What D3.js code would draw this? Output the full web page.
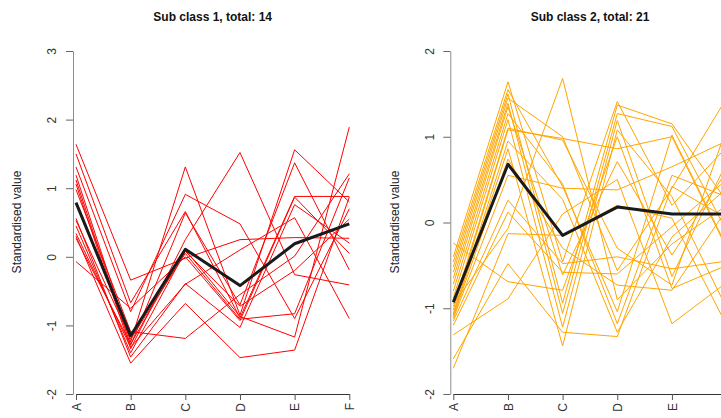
<!DOCTYPE html>
<html>
<head>
<meta charset="utf-8">
<script src="https://cdn.jsdelivr.net/npm/d3@7"></script>
<style>
  body { margin: 0; background: #fff; }
  text { font-family: "Liberation Sans", Arial, sans-serif; }
</style>
</head>
<body>
<div id="chart"></div>
<script>
var svgWidth = 721;
var svgHeight = 418;

// data
var categories = ["A", "B", "C", "D", "E", "F"];

var titles = ["Sub class 1, total: 14", "Sub class 2, total: 21"];

var class1Lines = [
  [1.64, -0.34, -0.02, 0.25, 0.28, 0.27],
  [1.50, -0.67, 0.66, -0.89, 0.88, 0.88],
  [1.31, -0.80, 0.91, 0.48, -0.90, 0.70],
  [1.19, -1.24, 1.31, -0.85, 1.56, 0.80],
  [1.12, -1.29, 0.64, -0.70, 1.37, -0.19],
  [1.06, -1.34, 0.25, 1.52, -0.26, -0.41],
  [0.98, -1.09, -1.19, -0.55, 0.01, 1.21],
  [0.56, -1.46, -0.39, -1.03, 0.76, 0.20],
  [0.53, -1.20, 0.05, -0.91, -0.83, 1.15],
  [0.34, -1.32, -0.40, 0.10, 0.57, -0.90],
  [0.30, -1.55, -0.68, -1.47, -1.36, 0.87],
  [0.27, -1.27, 0.10, -0.87, -1.17, 1.89],
  [-0.07, -0.75, 0.00, -0.93, 0.87, 0.05],
  [0.45, -1.40, 0.08, -0.72, -0.20, 0.55]
];
var class1Mean = [0.79, -1.15, 0.11, -0.42, 0.19, 0.48];

var class2Lines = [
  [-0.24, -0.69, -0.79, 1.00, -0.77, -0.50],
  [-0.40, 1.64, -0.46, 1.41, 0.20, 0.88],
  [-0.46, 1.55, 0.42, -1.04, 1.02, -0.28],
  [-0.52, 1.50, -0.94, 1.37, 1.15, 0.25],
  [-0.58, 1.45, 1.00, -0.56, 0.40, 1.45],
  [-0.65, 1.39, -1.06, 1.27, 1.12, -0.10],
  [-0.72, 1.35, -0.61, 0.71, -0.38, 0.60],
  [-0.80, 1.27, 0.45, -1.18, 0.55, 0.30],
  [-0.88, 1.20, -1.22, 1.19, -0.63, 0.70],
  [-0.98, 1.10, 0.96, -0.30, -0.73, 1.10],
  [-1.02, 1.08, 0.98, 0.86, 1.00, -0.30],
  [-1.06, 0.95, 0.27, -1.28, -0.17, 0.40],
  [-1.08, 0.86, -1.44, 1.08, 0.30, -1.00],
  [-1.10, 0.74, -0.30, -0.73, -0.79, 0.15],
  [-1.12, 0.55, 0.40, 0.38, 0.65, 0.95],
  [-1.15, 0.26, -0.48, -0.40, -0.54, -0.45],
  [-1.20, 0.12, -0.58, -0.60, -0.05, 0.50],
  [-1.31, -0.89, 0.10, 0.50, -1.18, -0.70],
  [-1.59, -0.48, -1.28, -1.33, 0.42, 0.05],
  [-1.70, -0.13, -0.15, 0.20, 0.05, -1.20],
  [-0.95, -0.07, 1.68, -0.90, -0.25, 0.20]
];
var class2Mean = [-0.93, 0.68, -0.15, 0.18, 0.10, 0.10];

var yTicks1 = [-2, -1, 0, 1, 2, 3];
var yTicks2 = [-2, -1, 0, 1, 2];

var svg = d3.select("#chart")
  .append("svg")
  .attr("width", svgWidth)
  .attr("height", svgHeight);

function drawPanel(opts) {
  var g = svg.append("g");

  var xScale = d3.scalePoint()
    .domain(categories)
    .range([opts.x0, opts.x0 + 273.3]);

  var yScale = d3.scaleLinear()
    .domain([opts.yTicks[0], opts.yTicks[opts.yTicks.length - 1]])
    .range([394, 51]);

  var line = d3.line()
    .x((d, i) => xScale(categories[i]))
    .y(d => yScale(d));

  g.selectAll("path.member")
    .data(opts.lines)
    .enter()
    .append("path")
    .attr("class", "member")
    .attr("d", line)
    .attr("fill", "none")
    .attr("stroke", opts.color)
    .attr("stroke-width", 1);

  g.append("path")
    .datum(opts.mean)
    .attr("d", line)
    .attr("fill", "none")
    .attr("stroke", "#1a1a1a")
    .attr("stroke-width", 3)
    .attr("stroke-linejoin", "round");

  // y axis, R style labels (plain hyphen minus)
  var yAxis = g.append("g")
    .attr("transform", `translate(${opts.x0 - 3}, 0)`)
    .call(d3.axisLeft(yScale)
      .tickValues(opts.yTicks)
      .tickFormat(d => String(d))
      .tickSize(7)
      .tickSizeOuter(0));
  yAxis.select(".domain").attr("stroke", "#8c8c8c");
  yAxis.selectAll(".tick line").attr("stroke", "#666");
  yAxis.selectAll(".tick text")
    .attr("x", null)
    .attr("transform", "translate(-21, 0) rotate(-90)")
    .attr("text-anchor", "middle")
    .attr("dy", "0.35em")
    .attr("fill", "#333")
    .style("font-size", "12px")
    .style("font-family", "Liberation Sans, Arial, sans-serif");

  // x axis
  var xAxis = g.append("g")
    .attr("transform", "translate(0, 394)")
    .call(d3.axisBottom(xScale).tickSize(6).tickSizeOuter(0));
  xAxis.select(".domain").attr("stroke", "#333");
  xAxis.selectAll(".tick line").attr("stroke", "#555");
  xAxis.selectAll(".tick text")
    .attr("y", null)
    .attr("transform", "translate(0, 9) rotate(-90)")
    .attr("text-anchor", "end")
    .attr("dy", "0.35em")
    .attr("fill", "#333")
    .style("font-size", "12px")
    .style("font-family", "Liberation Sans, Arial, sans-serif");
  // labels falling past the page edge are not visible in the original
  xAxis.selectAll(".tick")
    .filter(d => xScale(d) > svgWidth)
    .select("text").remove();

  g.append("text")
    .attr("x", opts.x0 + 136.7)
    .attr("y", 21)
    .attr("text-anchor", "middle")
    .style("font-size", "12px")
    .style("font-weight", "bold")
    .attr("fill", "#111")
    .text(opts.title);

  g.append("text")
    .attr("transform", `translate(${opts.x0 - 59}, 222) rotate(-90)`)
    .attr("text-anchor", "middle")
    .attr("dy", "0.35em")
    .style("font-size", "12px")
    .attr("fill", "#222")
    .text("Standardised value");
}

drawPanel({ x0: 76, yTicks: yTicks1, lines: class1Lines, mean: class1Mean, color: "#ff0000", title: titles[0] });
drawPanel({ x0: 453.3, yTicks: yTicks2, lines: class2Lines, mean: class2Mean, color: "#ffa500", title: titles[1] });
</script>
</body>
</html>
